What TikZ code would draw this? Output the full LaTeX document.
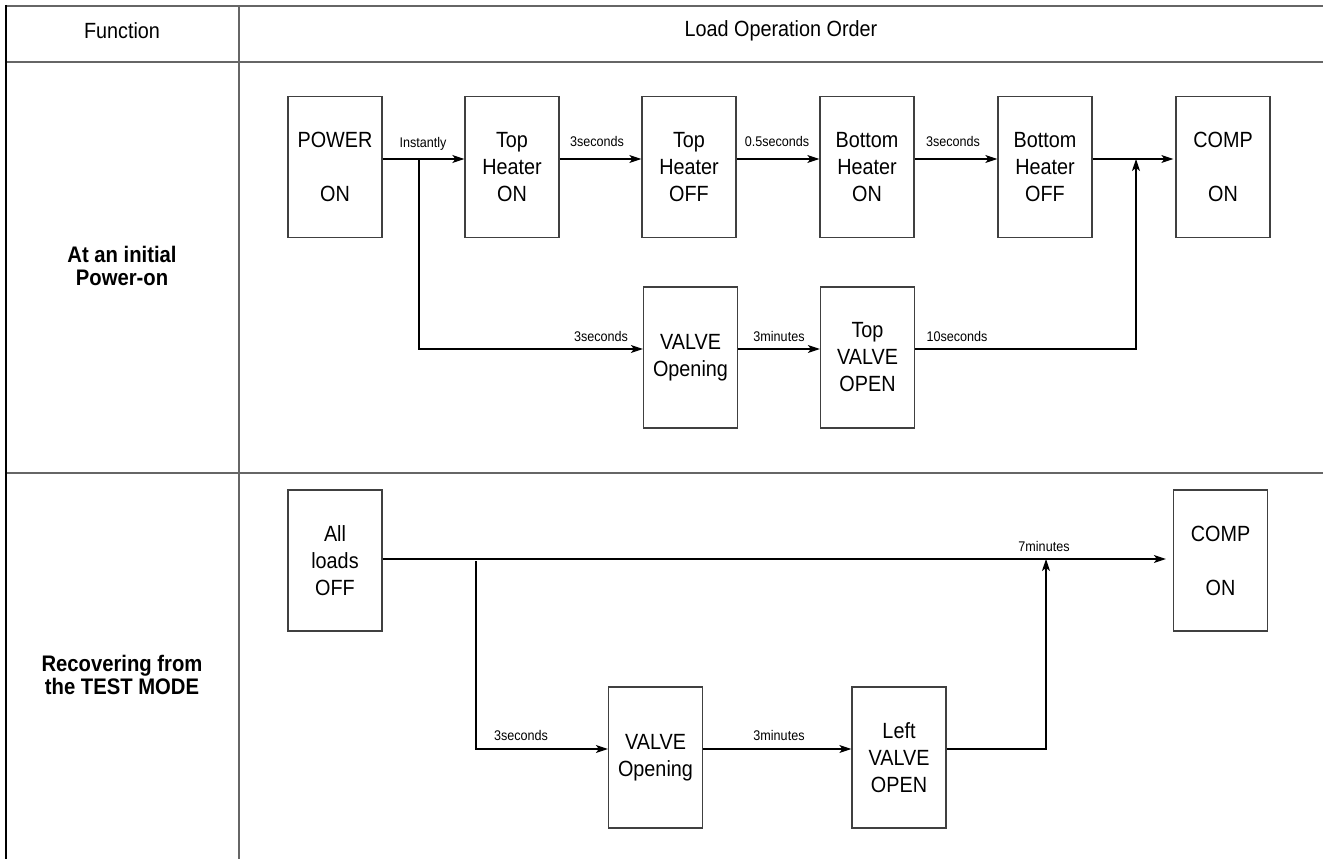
\documentclass[tikz,border=0pt]{standalone}
\usepackage{fontspec}
\setmainfont{Liberation Sans}[FakeStretch=0.9]
\usetikzlibrary{arrows.meta}
\begin{document}
\begin{tikzpicture}[x=1pt,y=-1pt,
  box/.style={draw=black!75, line width=1.3pt, minimum width=94pt, minimum height=141pt, inner sep=0pt, align=center, font=\fontsize{22}{27}\selectfont},
  conn/.style={line width=1.2pt, black},
  arr/.style={conn, -{Stealth[length=12pt,width=8pt,inset=3pt]}},
  lbl/.style={font=\fontsize{14}{16}\selectfont, inner sep=0pt},
  hdr/.style={font=\fontsize{22}{26}\selectfont, inner sep=0pt},
  fn/.style={font=\bfseries\fontsize{22.5}{23}\selectfont, align=center, inner sep=0pt},
  gridline/.style={line width=2pt, black!60}]
\useasboundingbox (0,0) rectangle (1323,859);
\fill[white] (0,0) rectangle (1323,859);
% table
\draw[gridline] (6,6) -- (1323,6);
\draw[gridline] (6,62) -- (1323,62);
\draw[gridline] (6,473) -- (1323,473);
\draw[gridline] (239,6) -- (239,859);
\draw[line width=2pt, black] (6,5) -- (6,859);
\node[hdr] (hf) at (122,31) {Function};
\node[hdr] (hl) at (781,31) {Load Operation Order};
\node[fn] (f1) at (122,266) {At an initial\\Power-on};
\node[fn] (f2) at (122,675) {Recovering from\\the TEST MODE};
% row 1
\node[box] (pw) at (335,167) {POWER\\[27pt]ON};
\node[box] (th1) at (512,167) {Top\\Heater\\ON};
\node[box] (th2) at (689,167) {Top\\Heater\\OFF};
\node[box] (bh1) at (867,167) {Bottom\\Heater\\ON};
\node[box] (bh2) at (1045,167) {Bottom\\Heater\\OFF};
\node[box] (cp1) at (1223,167) {COMP\\[27pt]ON};
\node[box] (vo1) at (690.5,357.5) {VALVE\\Opening};
\node[box] (tv) at (867.5,357.5) {Top\\VALVE\\OPEN};
\coordinate (j1) at (419,159);
\coordinate (j2) at (1136,159);
\draw[arr] ([yshift=8pt]pw.east) -- ([yshift=8pt]th1.west);
\draw[arr] ([yshift=8pt]th1.east) -- ([yshift=8pt]th2.west);
\draw[arr] ([yshift=8pt]th2.east) -- ([yshift=8pt]bh1.west);
\draw[arr] ([yshift=8pt]bh1.east) -- ([yshift=8pt]bh2.west);
\draw[arr, shorten >=2pt] ([yshift=8pt]bh2.east) -- ([yshift=8pt]cp1.west);
\draw[arr] (j1) |- ([yshift=8.5pt]vo1.west);
\draw[arr] ([yshift=8.5pt]vo1.east) -- ([yshift=8.5pt]tv.west);
\draw[arr] ([yshift=8.5pt]tv.east) -| (j2);
\node[lbl] (l1) at (423,144) {Instantly};
\node[lbl] (l2) at (597,141) {3seconds};
\node[lbl] (l3) at (777,141) {0.5seconds};
\node[lbl] (l4) at (953,141) {3seconds};
\node[lbl] (l5) at (601,336) {3seconds};
\node[lbl] (l6) at (779,336) {3minutes};
\node[lbl] (l7) at (957,336) {10seconds};
% row 2
\node[box] (al) at (335,560.5) {All\\loads\\OFF};
\node[box] (cp2) at (1220.5,560.5) {COMP\\[27pt]ON};
\node[box] (vo2) at (655.5,757.5) {VALVE\\Opening};
\node[box] (lv) at (899,757.5) {Left\\VALVE\\OPEN};
\coordinate (j3) at (476,561);
\coordinate (j4) at (1046,559);
\draw[arr] ([yshift=1.5pt]al.east) -- ([yshift=1.5pt,xshift=-7pt]cp2.west);
\draw[arr] (j3) |- ([yshift=8.5pt]vo2.west);
\draw[arr] ([yshift=8.5pt]vo2.east) -- ([yshift=8.5pt]lv.west);
\draw[arr] ([yshift=8.5pt]lv.east) -| (j4);
\node[lbl] (l8) at (521,735) {3seconds};
\node[lbl] (l9) at (779,735) {3minutes};
\node[lbl] (l10) at (1044,546) {7minutes};
\end{tikzpicture}
\end{document}
